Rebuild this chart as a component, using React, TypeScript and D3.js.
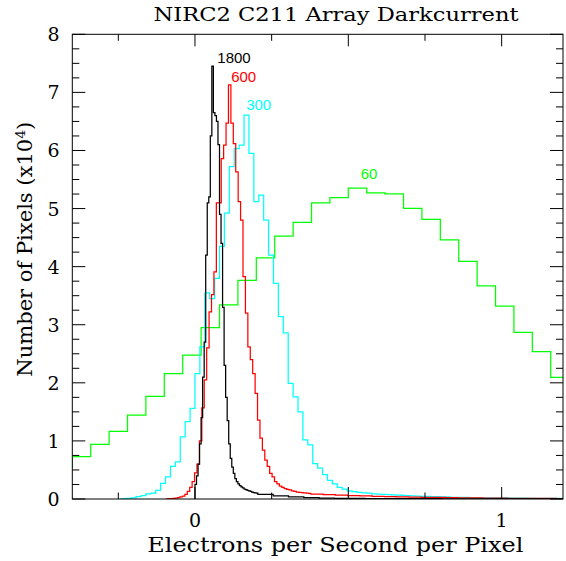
import React from "react";
import * as d3 from "d3";

// ---- data (counts in units of 10^4 pixels) ----
const xTickMajor = [0, 0.5, 1];
const xTickMinor = [-0.25, 0.25, 0.75];
const xTickLabels = ["0", "1"];
const xTickLabelValues = [0, 1];
const yTickLabels = ["0", "1", "2", "3", "4", "5", "6", "7", "8"];

// 60 s exposure
const greenStart = -0.46;
const greenWidth = 0.06;
const greenCounts = [0.556, 0.728, 0.94, 1.165, 1.446, 1.767, 2.157, 2.478, 2.95, 3.34, 3.764, 4.153, 4.527, 4.762, 5.1, 5.19, 5.353, 5.272, 5.255, 5.003, 4.814, 4.463, 4.09, 3.67, 3.32, 2.87, 2.535, 2.095];

// 300 s exposure
const cyanStart = -0.24;
const cyanWidth = 0.016;
const cyanCounts = [0.005, 0.01, 0.02, 0.04, 0.06, 0.09, 0.1, 0.15, 0.27, 0.38, 0.56, 0.64, 1.07, 1.33, 1.56, 2.16, 2.62, 3.55, 3.45, 3.8, 4.35, 4.92, 5.72, 6.03, 6.09, 6.61, 5.95, 5.12, 5.23, 4.8, 4.2, 3.71, 3.14, 2.86, 1.99, 1.76, 1.5, 1.02, 0.93, 0.61, 0.53, 0.42, 0.32, 0.26, 0.2, 0.17, 0.14, 0.125, 0.115, 0.105, 0.1, 0.09, 0.085, 0.08, 0.075, 0.07, 0.065, 0.063, 0.06, 0.055, 0.05];
const cyanTailWidth = 0.032;
const cyanTail = [0.045, 0.04, 0.035, 0.03, 0.03, 0.025, 0.02, 0.02, 0.02, 0.015, 0.015, 0.01, 0.01, 0.01, 0.01];

// 600 s exposure
const redStart = -0.0962;
const redWidth = 0.0079;
const redCounts = [0.0, 0.005, 0.008, 0.01, 0.015, 0.025, 0.035, 0.05, 0.08, 0.13, 0.2, 0.3, 0.45, 0.6, 1.0, 1.57, 2.05, 2.6, 3.22, 3.52, 3.91, 5.1, 5.1, 5.86, 6.09, 6.47, 7.13, 6.47, 6.12, 5.63, 5.12, 4.8, 3.83, 3.2, 2.62, 2.4, 2.16, 1.82, 1.36, 1.05, 0.84, 0.67, 0.56, 0.44, 0.38, 0.3, 0.26, 0.22, 0.2, 0.18, 0.165, 0.155, 0.14, 0.13, 0.12, 0.115, 0.11, 0.105, 0.1, 0.095];
const redTailWidth = 0.04;
const redTail = [0.085, 0.075, 0.065, 0.058, 0.052, 0.046, 0.04, 0.036, 0.032, 0.03, 0.027, 0.024, 0.02, 0.018, 0.015, 0.013, 0.012, 0.01, 0.01, 0.01, 0.008];

// 1800 s exposure
const blackStart = 0.0;
const blackWidth = 0.005;
const blackCounts = [0.25, 0.4, 0.6, 0.95, 1.4, 2.1, 2.7, 4.2, 5.1, 5.2, 6.25, 7.45, 6.65, 6.6, 6.5, 6.1, 4.9, 4.4, 3.3, 2.3, 1.75, 1.35, 0.95, 0.7, 0.55, 0.44, 0.35, 0.3, 0.26, 0.23, 0.21, 0.19, 0.17, 0.16, 0.15, 0.14, 0.13, 0.12, 0.11, 0.105, 0.1];
const blackTailWidth = 0.05;
const blackTail = [0.08, 0.055, 0.037, 0.024, 0.016, 0.012, 0.01, 0.008, 0.007, 0.006, 0.005, 0.005, 0.004, 0.004, 0.004, 0.003, 0.003, 0.003, 0.003, 0.003];

const seriesNames = ["60", "300", "600", "1800"];
const seriesColors = ["#00ff00", "#00ffff", "#ff0000", "#000000"];

// ---- layout ----
const W = 566, H = 561;
const L = 72.3, R = 563, T = 34.3, B = 499;

const x = d3.scaleLinear().domain([-0.4, 1.2]).range([L, R]);
const y = d3.scaleLinear().domain([0, 8]).range([B, T]);

function bins(start: number, width: number, counts: number[], tw = 0, tail: number[] = []) {
  const out: { x0: number; x1: number; v: number }[] = [];
  counts.forEach((v, i) => out.push({ x0: start + i * width, x1: start + (i + 1) * width, v }));
  const s2 = start + counts.length * width;
  tail.forEach((v, i) => out.push({ x0: s2 + i * tw, x1: s2 + (i + 1) * tw, v }));
  return out;
}

function stepPath(b: { x0: number; x1: number; v: number }[]) {
  const pts: [number, number][] = [[b[0].x0, 0]];
  b.forEach((d) => pts.push([d.x0, d.v]));
  const last = b[b.length - 1];
  pts.push([last.x1, last.v]);
  const line = d3.line<[number, number]>()
    .x((d) => x(d[0]))
    .y((d) => y(d[1]))
    .curve(d3.curveStepAfter);
  return line(pts) || "";
}

const seriesBins = [
  bins(greenStart, greenWidth, greenCounts),
  bins(cyanStart, cyanWidth, cyanCounts, cyanTailWidth, cyanTail),
  bins(redStart, redWidth, redCounts, redTailWidth, redTail),
  bins(blackStart, blackWidth, blackCounts, blackTailWidth, blackTail),
];

const labelPos = [
  { x: 369, y: 179.3 },
  { x: 258.7, y: 110 },
  { x: 243.7, y: 81.7 },
  { x: 234, y: 63.3 },
];

export default function App() {
  const serif = "'DejaVu Serif', serif";
  const yMinor = d3.range(0, 8.001, 0.25).filter((v) => Math.abs(v - Math.round(v)) > 1e-6);
  const yMajor = d3.range(0, 9, 1);
  return (
    <svg width={W} height={H} style={{ position: "absolute", left: 0, top: 0, background: "#fff" }}>
      <rect x={0} y={0} width={W} height={H} fill="#fff" />
      <defs>
        <clipPath id="plotclip">
          <rect x={L} y={T} width={R - L} height={B - T} />
        </clipPath>
      </defs>
      <g clipPath="url(#plotclip)">
        {seriesBins.map((b, i) => (
          <path key={i} d={stepPath(b)} fill="none" stroke={seriesColors[i]} strokeWidth={1.25} />
        ))}
      </g>
      {/* frame */}
      <rect x={L} y={T} width={R - L} height={B - T} fill="none" stroke="#000" strokeWidth={1} />
      {/* x ticks */}
      {xTickMajor.map((v) => (
        <g key={"xM" + v}>
          <line x1={x(v)} x2={x(v)} y1={B} y2={B - 12} stroke="#000" />
          <line x1={x(v)} x2={x(v)} y1={T} y2={T + 12} stroke="#000" />
        </g>
      ))}
      {xTickMinor.map((v) => (
        <g key={"xm" + v}>
          <line x1={x(v)} x2={x(v)} y1={B} y2={B - 6.5} stroke="#000" />
          <line x1={x(v)} x2={x(v)} y1={T} y2={T + 6.5} stroke="#000" />
        </g>
      ))}
      {/* y ticks */}
      {yMajor.map((v) => (
        <g key={"yM" + v}>
          <line x1={L} x2={L + 13} y1={y(v)} y2={y(v)} stroke="#000" />
          <line x1={R} x2={R - 13} y1={y(v)} y2={y(v)} stroke="#000" />
        </g>
      ))}
      {yMinor.map((v) => (
        <g key={"ym" + v}>
          <line x1={L} x2={L + 7} y1={y(v)} y2={y(v)} stroke="#000" />
          <line x1={R} x2={R - 7} y1={y(v)} y2={y(v)} stroke="#000" />
        </g>
      ))}
      {/* tick labels */}
      {yTickLabels.map((t, i) => (
        <text key={"yl" + t} x={59.5} y={y(i) + 7} textAnchor="end" fontFamily={serif} fontSize={19} fill="#000">
          {t}
        </text>
      ))}
      {xTickLabels.map((t, i) => (
        <text key={"xl" + t} x={x(xTickLabelValues[i])} y={527} textAnchor="middle" fontFamily={serif} fontSize={19} fill="#000">
          {t}
        </text>
      ))}
      {/* titles */}
      <text x={336} y={21} textAnchor="middle" fontFamily={serif} fontSize={19} textLength={365} lengthAdjust="spacingAndGlyphs" fill="#000">
        NIRC2 C211 Array Darkcurrent
      </text>
      <text x={335.3} y={551.7} textAnchor="middle" fontFamily={serif} fontSize={19.5} textLength={376} lengthAdjust="spacingAndGlyphs" fill="#000">
        Electrons per Second per Pixel
      </text>
      <text transform="translate(31.7,249.2) rotate(-90)" textAnchor="middle" fontFamily={serif} fontSize={19.5} fill="#000" textLength={255} lengthAdjust="spacingAndGlyphs">
        Number of Pixels (x10<tspan dy={-7} fontSize={13}>4</tspan><tspan dy={7}>)</tspan>
      </text>
      {/* series labels */}
      {seriesNames.map((n, i) => (
        <text key={"s" + n} x={labelPos[i].x} y={labelPos[i].y} textAnchor="middle" fontFamily="'Liberation Sans', Arial, sans-serif" fontSize={15} fill={seriesColors[i]}>
          {n}
        </text>
      ))}
    </svg>
  );
}
